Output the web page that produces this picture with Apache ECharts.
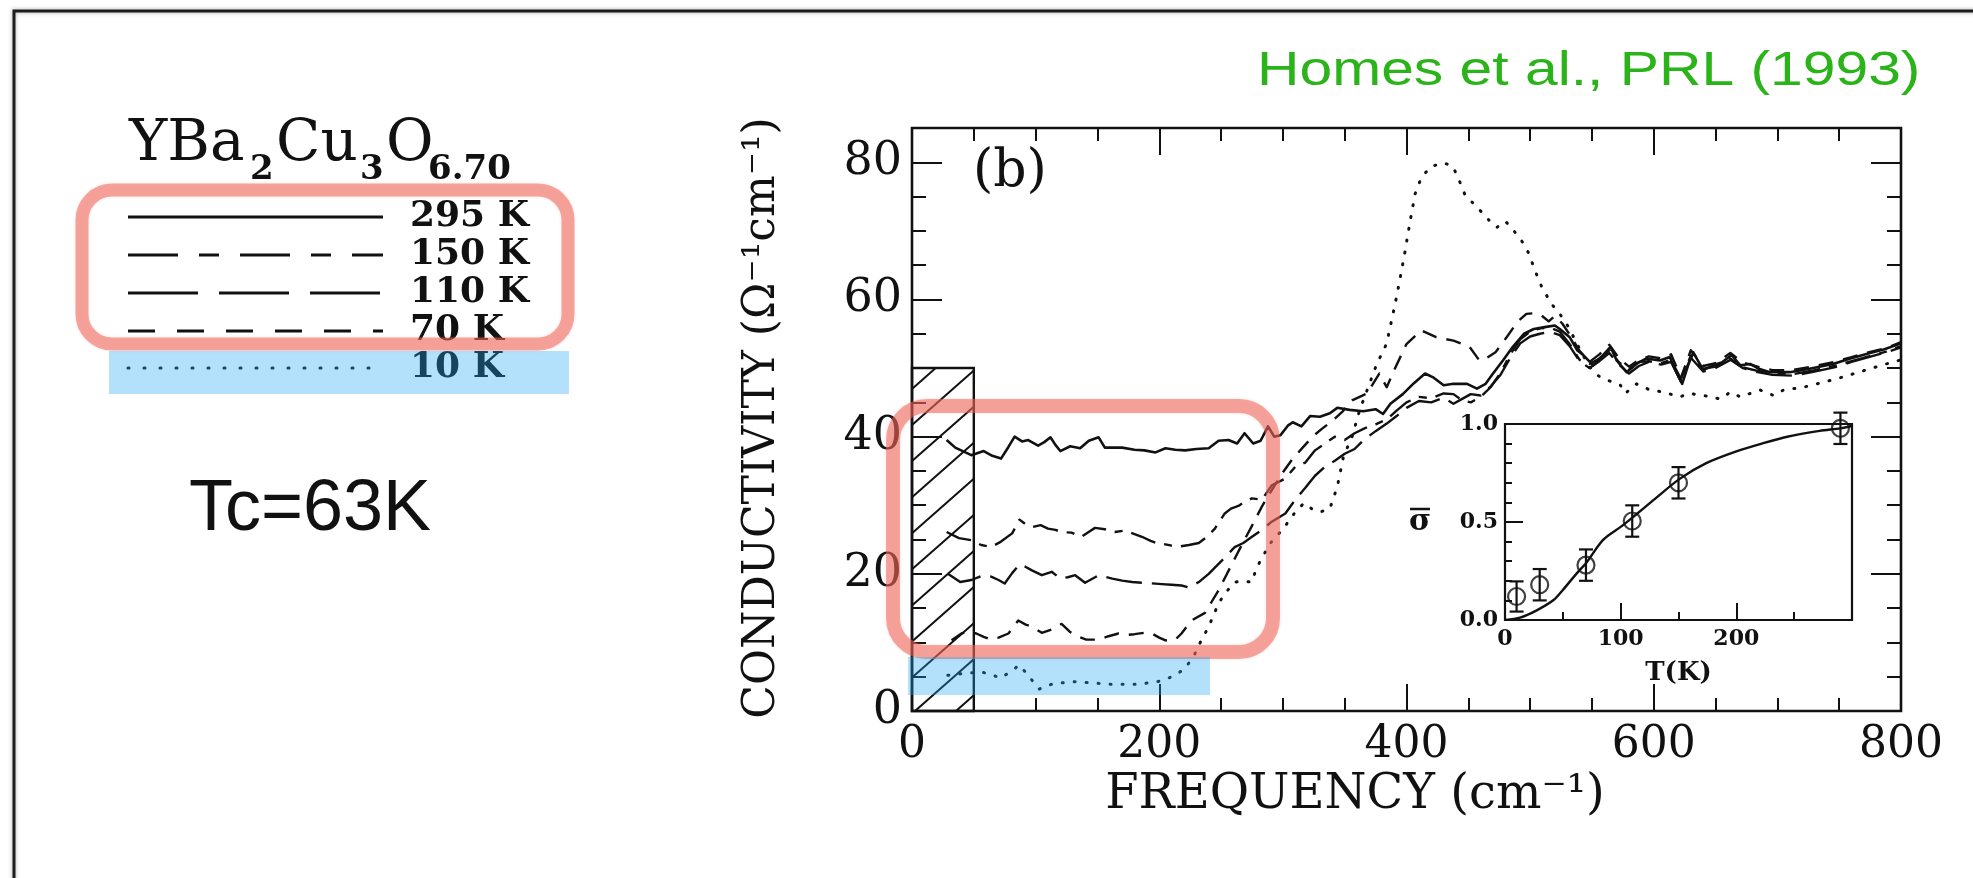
<!DOCTYPE html>
<html>
<head>
<meta charset="utf-8">
<script src="https://cdn.jsdelivr.net/npm/echarts@6/dist/echarts.min.js"></script>
<style>
  html, body { margin: 0; padding: 0; background: #ffffff; }
  #chart { width: 1973px; height: 878px; }
</style>
</head>
<body>
<div id="chart"></div>
<script>
// Optical conductivity of YBa2Cu3O6.70 at five temperatures: [frequency (cm^-1), sigma (ohm^-1 cm^-1)]
const s295 = [[28,39.5],[35,38.4],[48,37.3],[58,37.9],[65,37.2],[72,36.8],[78,38.5],[83,40.0],[89,39.3],[94,39.5],[102,38.7],[107,39.2],[112,39.9],[116,38.8],[120,37.9],[128,38.6],[136,38.3],[143,39.4],[151,39.9],[156,38.4],[170,38.4],[180,38.1],[188,38.0],[197,37.7],[205,38.3],[213,38.1],[221,38.0],[230,38.2],[240,38.3],[248,39.4],[256,39.5],[263,39.0],[269,40.5],[276,39.0],[282,39.4],[288,41.5],[293,40.0],[298,40.2],[304,41.6],[308,42.1],[315,41.5],[322,43.0],[330,42.9],[338,43.4],[344,44.2],[354,43.9],[365,43.7],[375,44.0],[381,43.3],[387,44.8],[397,46.2],[406,47.8],[415,49.2],[422,48.6],[430,47.5],[438,47.7],[449,47.7],[457,47.0],[464,47.7],[470,49.2],[478,51.1],[486,53.1],[495,55.0],[503,55.7],[513,56.0],[520,56.2],[524,55.7],[532,54.5],[538,52.6],[543,51.9],[551,50.4],[559,51.9],[565,53.1],[570,51.1],[578,49.4],[586,50.6],[594,51.4],[605,51.1],[613,51.6],[618,49.5],[623,47.7],[628,50.5],[632,52.3],[640,49.7],[648,50.4],[655,50.8],[663,51.9],[670,50.4],[678,50.6],[685,49.9],[694,49.4],[710,49.4],[726,49.9],[745,50.6],[759,51.4],[775,52.2],[786,52.7],[800,53.6]];

const s150 = [[28,26.1],[38,25.2],[48,24.9],[56,24.2],[64,23.9],[72,24.7],[81,25.9],[87,27.9],[92,27.2],[97,26.8],[104,27.1],[110,26.6],[116,26.4],[121,26.1],[129,26.0],[137,25.4],[142,26.0],[148,26.7],[156,26.5],[164,26.1],[172,26.3],[180,25.8],[186,25.4],[193,24.8],[199,24.4],[205,24.3],[210,24.1],[217,24.0],[224,24.2],[232,24.5],[238,25.3],[245,26.6],[253,28.8],[258,29.5],[264,29.9],[270,30.6],[275,31.0],[283,30.8],[291,32.9],[302,33.9],[310,35.6],[318,36.2],[326,38.0],[334,39.0],[342,40.0],[350,39.5],[358,40.5],[366,41.2],[375,41.8],[384,42.5],[392,43.8],[400,45.0],[410,45.8],[420,45.6],[430,46.3],[438,46.2],[445,45.3],[452,45.0],[460,45.8],[468,47.2],[476,49.3],[484,52.0],[492,54.2],[500,55.3],[508,55.8],[516,55.9],[524,55.3],[532,53.5],[540,51.2],[548,50.6],[556,51.4],[564,52.6],[572,50.8],[580,49.8],[588,50.9],[596,51.0],[606,50.7],[614,51.2],[622,48.4],[630,51.8],[640,49.9],[650,50.2],[662,51.4],[672,50.1],[684,49.6],[696,49.2],[712,49.1],[728,49.6],[746,50.3],[760,51.0],[776,51.8],[788,52.4],[800,53.2]];

const s110 = [[29,20.0],[39,18.8],[48,19.1],[58,19.8],[64,19.6],[70,19.1],[75,18.6],[81,20.1],[87,21.4],[92,21.0],[97,20.5],[105,19.8],[113,20.3],[120,19.3],[126,19.5],[132,19.8],[140,18.7],[151,19.8],[162,19.3],[170,19.0],[178,18.8],[186,18.7],[194,18.6],[202,18.5],[210,18.4],[218,18.3],[224,18.0],[232,18.8],[240,20.0],[251,22.0],[261,23.9],[268,24.5],[275,25.4],[283,26.4],[291,27.6],[302,28.8],[310,30.8],[318,32.5],[326,34.3],[334,35.6],[342,36.5],[350,37.5],[358,38.2],[366,39.6],[375,40.8],[384,41.9],[392,43.0],[400,44.2],[410,45.2],[420,45.0],[430,45.7],[438,44.8],[445,45.5],[452,46.2],[460,46.0],[468,47.3],[476,49.0],[484,51.5],[492,53.6],[500,54.6],[508,55.0],[516,55.3],[524,54.8],[532,53.2],[540,51.0],[548,50.0],[556,51.0],[564,52.2],[572,50.5],[580,49.2],[588,50.3],[596,50.9],[606,50.5],[614,50.9],[622,48.0],[630,51.5],[640,49.5],[650,50.0],[662,51.2],[672,50.0],[684,49.4],[696,49.0],[712,48.9],[728,49.4],[746,50.1],[760,50.9],[776,51.7],[788,52.3],[800,53.0]];

const s70 = [[32,10.3],[40,11.3],[46,11.6],[52,11.3],[58,10.8],[64,10.4],[70,10.7],[78,11.3],[86,13.2],[92,12.6],[97,12.3],[105,11.4],[113,11.9],[121,12.7],[128,11.5],[135,10.8],[141,10.4],[151,10.4],[159,10.9],[167,11.3],[174,11.1],[180,11.2],[188,11.4],[194,11.3],[200,10.7],[205,10.3],[213,10.4],[218,11.3],[226,13.2],[237,14.3],[248,17.6],[259,21.5],[267,24.3],[275,27.0],[283,29.8],[292,32.5],[300,34.8],[308,36.8],[316,38.4],[324,40.0],[332,41.2],[340,42.3],[348,43.6],[356,45.3],[368,46.3],[378,49.2],[384,47.2],[390,49.7],[400,53.5],[412,55.5],[424,54.5],[438,54.0],[451,53.1],[459,51.1],[465,51.5],[472,52.3],[481,54.5],[490,56.8],[497,57.9],[503,58.0],[509,57.7],[515,56.8],[520,57.6],[526,56.5],[533,54.6],[540,52.5],[548,50.9],[556,52.0],[564,53.4],[572,51.4],[580,50.2],[588,51.2],[596,51.7],[606,51.4],[614,52.0],[622,48.6],[630,52.6],[640,50.3],[650,50.7],[662,52.2],[672,50.8],[684,50.2],[696,49.7],[712,49.7],[728,50.2],[746,50.9],[760,51.6],[776,52.4],[788,52.9],[800,53.8]];

const s10 = [[29,5.2],[38,5.4],[45,5.5],[56,5.7],[64,5.3],[72,4.8],[80,5.8],[87,6.7],[92,5.6],[97,4.5],[103,3.2],[108,3.6],[113,3.9],[121,4.1],[129,4.3],[137,4.2],[145,4.1],[153,4.0],[161,3.9],[172,3.9],[183,3.9],[191,4.1],[199,4.3],[205,4.6],[210,5.0],[216,5.6],[221,6.2],[229,8.4],[234,10.3],[240,12.3],[248,15.7],[253,17.1],[261,18.8],[268,18.9],[275,18.8],[278,20.5],[282,22.0],[290,24.5],[300,26.5],[310,29.0],[317,30.3],[324,29.4],[330,29.0],[338,29.5],[344,32.7],[349,37.1],[356,40.0],[362,43.8],[369,47.2],[376,50.6],[384,53.6],[388,57.0],[392,60.4],[396,64.2],[399,67.2],[403,71.5],[407,75.4],[412,77.8],[420,79.4],[430,79.9],[437,79.5],[441,78.1],[447,75.4],[454,74.0],[461,72.7],[468,71.3],[473,70.5],[480,71.4],[486,70.2],[493,68.6],[499,66.7],[504,64.2],[509,62.0],[517,59.4],[524,57.9],[531,56.0],[540,52.8],[548,50.2],[554,49.0],[559,48.5],[566,48.0],[573,47.5],[577,46.3],[586,47.7],[597,46.8],[608,46.5],[621,45.8],[629,46.3],[640,46.0],[654,45.5],[662,46.5],[670,45.8],[686,46.8],[697,46.0],[705,46.8],[721,47.2],[732,47.7],[743,48.2],[753,48.7],[764,49.3],[775,49.9],[786,50.5],[800,51.2]];

// Hatched band at low frequency: [freqFrom, freqTo, sigmaFrom, sigmaTo]
const hatchBand = [0, 50, 0, 50];

// Inset: normalised conductivity vs temperature
const insetT = [10, 30, 70, 110, 150, 290];
const insetSigma = [0.12, 0.18, 0.28, 0.505, 0.70, 0.978];
const insetErr = [0.077, 0.08, 0.08, 0.08, 0.08, 0.08];
const fitT = [0, 13, 27, 42, 50, 62, 70, 85, 100, 111, 128, 151, 174, 200, 222, 244, 272, 290, 300];
const fitSigma = [0, 0.012, 0.048, 0.102, 0.153, 0.238, 0.29, 0.41, 0.475, 0.527, 0.61, 0.72, 0.80, 0.86, 0.90, 0.935, 0.965, 0.978, 0.99];

// Legend entries and temperature labels
const legendLabels = ['295 K', '150 K', '110 K', '70 K', '10 K'];

const INK = '#111111';
const SERIF = 'DejaVu Serif';

const curveStyles = [
  { data: s295, type: 'solid', width: 2.6, cap: 'butt', legendDash: null },
  { data: s150, type: [26, 9, 8, 9], width: 2.4, cap: 'butt', legendDash: [50, 21, 20, 21] },
  { data: s110, type: [36, 10], width: 2.4, cap: 'butt', legendDash: [70, 21] },
  { data: s70, type: [15, 10], width: 2.4, cap: 'butt', legendDash: [27, 22] },
  { data: s10, type: [1, 11], width: 3, cap: 'round', legendDash: [1, 15] }
];

const chart = echarts.init(document.getElementById('chart'));

const mainSeries = curveStyles.map((c, i) => ({
  name: legendLabels[i],
  type: 'line',
  xAxisIndex: 0,
  yAxisIndex: 0,
  data: c.data,
  showSymbol: false,
  animation: false,
  z: 4,
  lineStyle: { color: INK, width: c.width, type: c.type, cap: c.cap, join: 'round' }
}));

function hatchRender(params, api) {
  const pBL = api.coord([api.value(0), api.value(2)]);
  const pTR = api.coord([api.value(1), api.value(3)]);
  const x0 = pBL[0], x1 = pTR[0], y0 = pTR[1], y1 = pBL[1];
  const children = [{
    type: 'rect',
    shape: { x: x0, y: y0, width: x1 - x0, height: y1 - y0 },
    style: { fill: 'none', stroke: INK, lineWidth: 2.4 }
  }];
  const k = 0.88, step = 41;
  const span = (y1 - y0) / k;
  for (let b = x0 + 3 - step * Math.ceil(span / step); b < x1; b += step) {
    const xa = Math.max(x0, b);
    const xb = Math.min(x1, b + span);
    if (xb > xa) {
      children.push({
        type: 'line',
        shape: { x1: xa, y1: y1 - k * (xa - b), x2: xb, y2: y1 - k * (xb - b) },
        style: { stroke: INK, lineWidth: 2 }
      });
    }
  }
  return { type: 'group', children };
}

function errorBarRender(params, api) {
  const t = api.value(0);
  const lo = api.coord([t, api.value(1)]);
  const hi = api.coord([t, api.value(2)]);
  const cap = 7;
  const st = { stroke: INK, lineWidth: 2.2 };
  return {
    type: 'group',
    children: [
      { type: 'line', shape: { x1: lo[0], y1: lo[1], x2: hi[0], y2: hi[1] }, style: st },
      { type: 'line', shape: { x1: lo[0] - cap, y1: lo[1], x2: lo[0] + cap, y2: lo[1] }, style: st },
      { type: 'line', shape: { x1: hi[0] - cap, y1: hi[1], x2: hi[0] + cap, y2: hi[1] }, style: st }
    ]
  };
}

const tickLabelX = { fontFamily: SERIF, fontSize: 44, color: INK, margin: 13 };
const tickLabelY = { fontFamily: SERIF, fontSize: 46, color: INK, margin: 10,
  formatter: v => (v % 20 === 0 ? String(v) : '') };

function yAxisFor(position, major, showLabel) {
  return {
    type: 'value', gridIndex: 0, position, min: 0, max: 85,
    interval: major ? 20 : 5,
    axisLine: { show: false, onZero: false },
    axisTick: { show: true, inside: true, length: major ? 30 : 14, lineStyle: { color: INK, width: 2 } },
    axisLabel: showLabel ? tickLabelY : { show: false },
    splitLine: { show: false }
  };
}

function xAxisFor(position, showLabel) {
  return {
    type: 'value', gridIndex: 0, position, min: 0, max: 800, interval: 200,
    axisLine: { show: false, onZero: false },
    axisTick: { show: true, inside: true, length: 27, lineStyle: { color: INK, width: 2 } },
    minorTick: { show: true, splitNumber: 4, length: 13, lineStyle: { color: INK, width: 2 } },
    axisLabel: showLabel ? tickLabelX : { show: false },
    splitLine: { show: false }, minorSplitLine: { show: false }
  };
}

// Legend block (lines + temperature labels)
const legendY = [217, 255, 293, 331, 368];
const legendGraphics = [];
curveStyles.forEach((c, i) => {
  legendGraphics.push({
    type: 'line', z: 5,
    shape: { x1: 128, y1: legendY[i], x2: 383, y2: legendY[i] },
    style: { stroke: INK, lineWidth: 3, lineDash: c.legendDash || null, lineCap: c.cap }
  });
  legendGraphics.push({
    type: 'text', z: 5, x: 410, y: legendY[i],
    style: { text: legendLabels[i], fontFamily: SERIF, fontWeight: 'bold', fontSize: 36,
      fill: INK, align: 'left', verticalAlign: 'middle' }
  });
});

// Compound formula with subscripts
const formulaParts = [
  { t: 'YBa', x: 129, big: true }, { t: '2', x: 250, big: false },
  { t: 'Cu', x: 276, big: true }, { t: '3', x: 360, big: false },
  { t: 'O', x: 386, big: true }, { t: '6.70', x: 428, big: false }
];
const formulaGraphics = formulaParts.map(p => ({
  type: 'text', z: 5, x: p.x, y: p.big ? 145 : 170,
  style: { text: p.t, fontFamily: SERIF, fontSize: p.big ? 58 : 34,
    fontWeight: p.big ? 'normal' : 'bold', fill: INK, align: 'left', verticalAlign: 'middle' }
}));

const option = {
  backgroundColor: '#ffffff',
  animation: false,
  grid: [
    { left: 912, top: 128, width: 989, height: 583, show: true, borderColor: INK, borderWidth: 2.6, backgroundColor: 'transparent' },
    { left: 1505, top: 424, width: 347, height: 196, show: true, borderColor: INK, borderWidth: 2.2, backgroundColor: '#ffffff' }
  ],
  xAxis: [
    xAxisFor('bottom', true),
    xAxisFor('top', false),
    {
      type: 'value', gridIndex: 1, position: 'bottom', min: 0, max: 300, interval: 100,
      axisLine: { show: false, onZero: false },
      axisTick: { show: true, inside: true, length: 17, lineStyle: { color: INK, width: 2 } },
      minorTick: { show: true, splitNumber: 2, length: 8, lineStyle: { color: INK, width: 2 } },
      axisLabel: { fontFamily: SERIF, fontWeight: 'bold', fontSize: 22, color: INK, margin: 8,
        formatter: v => (v >= 300 ? '' : String(v)) },
      splitLine: { show: false },
      name: 'T(K)', nameLocation: 'middle', nameGap: 40,
      nameTextStyle: { fontFamily: SERIF, fontWeight: 'bold', fontSize: 26, color: INK }
    }
  ],
  yAxis: [
    yAxisFor('left', true, true),
    yAxisFor('left', false, false),
    yAxisFor('right', true, false),
    yAxisFor('right', false, false),
    {
      type: 'value', gridIndex: 1, position: 'left', min: 0, max: 1, interval: 0.5,
      axisLine: { show: false, onZero: false },
      axisTick: { show: true, inside: true, length: 18, lineStyle: { color: INK, width: 2 } },
      minorTick: { show: true, splitNumber: 5, length: 7, lineStyle: { color: INK, width: 2 } },
      axisLabel: { fontFamily: SERIF, fontWeight: 'bold', fontSize: 22, color: INK, margin: 7,
        formatter: v => v.toFixed(1) },
      splitLine: { show: false }
    }
  ],
  series: [
    ...mainSeries,
    {
      type: 'custom', xAxisIndex: 0, yAxisIndex: 0, data: [hatchBand],
      renderItem: hatchRender, z: 3, animation: false
    },
    {
      type: 'line', xAxisIndex: 2, yAxisIndex: 4,
      data: fitT.map((t, i) => [t, fitSigma[i]]),
      smooth: 0.3, showSymbol: false, z: 4,
      lineStyle: { color: INK, width: 2.4 }
    },
    {
      type: 'custom', xAxisIndex: 2, yAxisIndex: 4,
      data: insetT.map((t, i) => [t, insetSigma[i] - insetErr[i], insetSigma[i] + insetErr[i]]),
      renderItem: errorBarRender, z: 5
    },
    {
      type: 'scatter', xAxisIndex: 2, yAxisIndex: 4,
      data: insetT.map((t, i) => [t, insetSigma[i]]),
      symbol: 'circle', symbolSize: 17, z: 6,
      itemStyle: { color: 'rgba(255,255,255,0)', borderColor: INK, borderWidth: 2.2 }
    }
  ],
  graphic: [
    // page frame
    { type: 'rect', z: 0, shape: { x: 14, y: 11, width: 1990, height: 900 },
      style: { fill: 'none', stroke: '#1c1c1c', lineWidth: 3, shadowBlur: 4, shadowColor: 'rgba(0,0,0,0.35)' } },
    // axis titles
    { type: 'text', z: 5, x: 763, y: 418, rotation: Math.PI / 2,
      style: { text: 'CONDUCTIVITY (Ω⁻¹cm⁻¹)', fontFamily: SERIF, fontSize: 44, fill: INK,
        align: 'center', verticalAlign: 'middle' } },
    { type: 'text', z: 5, x: 1355, y: 796,
      style: { text: 'FREQUENCY (cm⁻¹)', fontFamily: SERIF, fontSize: 48, fill: INK,
        align: 'center', verticalAlign: 'middle' } },
    // panel tag
    { type: 'text', z: 5, x: 973, y: 172,
      style: { text: '(b)', fontFamily: SERIF, fontSize: 52, fill: INK, align: 'left', verticalAlign: 'middle' } },
    // inset y label (sigma bar)
    { type: 'text', z: 7, x: 1420, y: 522,
      style: { text: 'σ', fontFamily: SERIF, fontWeight: 'bold', fontSize: 30, fill: INK, align: 'center', verticalAlign: 'middle' } },
    { type: 'line', z: 7, shape: { x1: 1410, y1: 509, x2: 1430, y2: 509 }, style: { stroke: INK, lineWidth: 2.5 } },
    ...formulaGraphics,
    ...legendGraphics,
    { type: 'text', z: 5, x: 310, y: 510,
      style: { text: 'Tc=63K', fontFamily: 'Liberation Sans', fontSize: 72, fill: '#111111', align: 'center', verticalAlign: 'middle' } },
    { type: 'text', z: 5, x: 1257, y: 72, scaleX: 1.225, scaleY: 1.02, originX: 0,
      style: { text: 'Homes et al., PRL (1993)', fontFamily: 'Liberation Sans', fontSize: 48, fill: '#2bb31a', align: 'left', verticalAlign: 'middle' } },
    // highlight boxes
    { type: 'rect', z: 100, shape: { x: 82, y: 190, width: 486, height: 154, r: 30 },
      style: { fill: 'none', stroke: 'rgba(238,100,88,0.52)', lineWidth: 13, shadowBlur: 3, shadowColor: 'rgba(238,100,88,0.4)' } },
    { type: 'rect', z: 100, shape: { x: 109, y: 351, width: 460, height: 43 },
      style: { fill: 'rgba(32,165,244,0.34)' } },
    { type: 'rect', z: 100, shape: { x: 893, y: 406, width: 380, height: 246, r: 34 },
      style: { fill: 'none', stroke: 'rgba(238,100,88,0.52)', lineWidth: 14, shadowBlur: 3, shadowColor: 'rgba(238,100,88,0.4)' } },
    { type: 'rect', z: 100, shape: { x: 908, y: 657, width: 302, height: 38 },
      style: { fill: 'rgba(32,165,244,0.34)' } }
  ]
};

chart.setOption(option);
</script>
</body>
</html>
